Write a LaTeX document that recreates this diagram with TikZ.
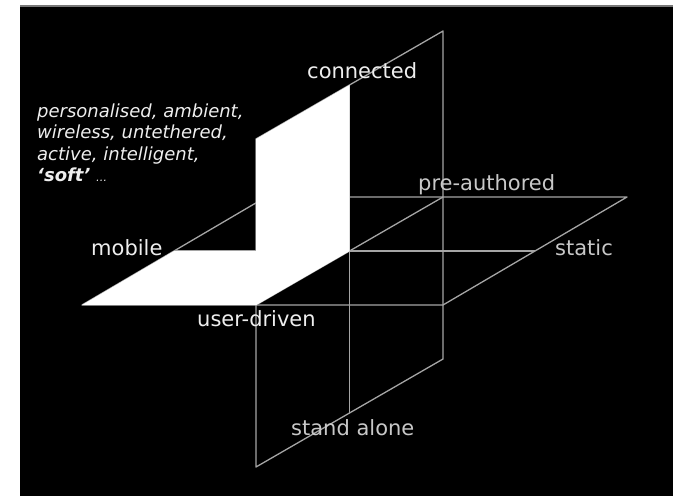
\documentclass[tikz,border=0pt]{standalone}
\usepackage{fontspec}
\setmainfont{DejaVu Sans}
\definecolor{gridc}{RGB}{165,165,165}
\definecolor{labw}{RGB}{238,238,238}
\definecolor{labg}{RGB}{200,200,200}
\definecolor{topline}{RGB}{120,120,120}
\begin{document}
\begin{tikzpicture}[x=1pt,y=-1pt,
  gridline/.style={draw=gridc, line width=1.3pt, line join=round},
  face/.style={fill=white},
  lab/.style={inner sep=0pt, anchor=base west, font=\fontsize{21}{25}\selectfont},
  itl/.style={inner sep=0pt, anchor=base west, font=\fontsize{18}{21}\selectfont\itshape, text=labw}]
\useasboundingbox (0,0) rectangle (673,496);
\fill[white] (0,0) rectangle (673,496);
\fill[black] (20,6) rectangle (673,496);
\draw[topline, line width=1.5pt] (20,6) -- (673,6);
% vertical plane (connected / stand alone)
\coordinate (VFT) at (256,139);
\coordinate (VFB) at (256,467);
\coordinate (VBT) at (443,31);
\coordinate (VBB) at (443,359);
\coordinate (VMT) at (349.5,85);
\coordinate (VMB) at (349.5,413);
% horizontal plane (mobile / static, user-driven / pre-authored)
\coordinate (HFL) at (82,305);
\coordinate (HFR) at (443,305);
\coordinate (HBR) at (627,197);
\coordinate (HBL) at (266,197);
\coordinate (HML) at (174,251);
\coordinate (HMR) at (535,251);
\coordinate (F0) at (256,305);
\coordinate (B0) at (443,197);
\coordinate (C0) at (349.5,251);
% grid lines
\draw[gridline] (VFT) -- (VBT) -- (VBB) -- (VFB) -- cycle;
\draw[gridline] (VMT) -- (VMB);
\draw[gridline] (HFL) -- (HFR) -- (HBR) -- (HBL) -- cycle;
\draw[gridline] (HML) -- (HMR);
\draw[gridline] (F0) -- (B0);
% white quadrants
\fill[face] (HFL) -- (HML) -- (C0) -- (F0) -- cycle;
\fill[face] (F0) -- (C0) -- (VMT) -- (VFT) -- cycle;
% labels
\node[lab, text=labw] (connected) at (307,78) {connected};
\node[lab, text=labg] (preauth) at (418,190) {pre-authored};
\node[lab, text=labg] (static) at (555,255) {static};
\node[lab, text=labw] (mobile) at (91,255) {mobile};
\node[lab, text=labw] (userdriven) at (197,326) {user-driven};
\node[lab, text=labg] (standalone) at (291,435) {stand alone};
% italic list
\node[itl] (l1) at (37,117) {personalised, ambient,};
\node[itl] (l2) at (37,138.5) {wireless, untethered,};
\node[itl] (l3) at (37,160) {active, intelligent,};
\node[itl] (l4) at (37,181.5) {\textbf{‘soft’} {\fontsize{11}{13}\selectfont …}};
\end{tikzpicture}
\end{document}
